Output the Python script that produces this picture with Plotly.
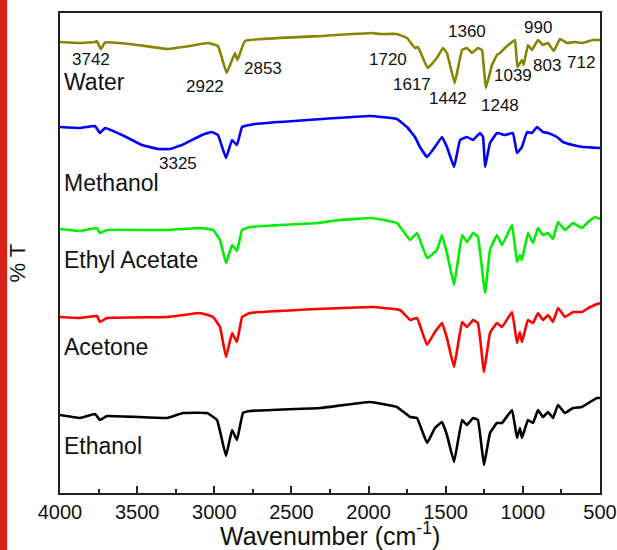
import plotly.graph_objects as go

# ---- data (wavenumber in cm-1, offset %T in arbitrary units) ----
water_wn = [4000, 3870, 3773, 3762, 3735, 3708, 3546, 3300, 3157, 3041, 2976, 2920, 2866, 2850, 2801,
            2302, 1978, 1926, 1816, 1751, 1699, 1680, 1617, 1557, 1518, 1492, 1442, 1394, 1362, 1330,
            1291, 1265, 1240, 1200, 1168, 1148, 1116, 1070, 1051, 1035, 1006, 995, 967, 941, 902,
            870, 837, 800, 759, 714, 662, 610, 546, 500]
water_t = [451, 450, 451, 452, 444, 450.5, 449, 444, 447, 450, 447, 420, 440, 433, 452,
           457, 460, 459, 459, 455, 445, 446, 425, 435, 445, 440, 410, 443, 445, 440,
           445, 443, 405, 428, 438, 440, 445, 451, 453, 426, 433, 428, 448, 443, 453,
           448, 450, 442, 454, 450, 451, 450, 453, 453]

methanol_wn = [4000, 3870, 3773, 3741, 3708, 3598, 3469, 3365, 3287, 3209, 3080, 3015, 2976, 2924,
               2885, 2853, 2820, 2736, 2302, 1991, 1816, 1751, 1699, 1667, 1621, 1570, 1524, 1492,
               1446, 1407, 1362, 1323, 1278, 1258, 1245, 1213, 1168, 1116, 1064, 1038, 1006, 973,
               941, 908, 870, 837, 779, 740, 675, 610, 500]
methanol_t = [366, 365, 367, 360, 365, 358, 348, 344, 344, 348, 358, 361, 358, 335,
              353, 348, 366, 369, 374, 377, 374, 366, 356, 346, 336, 346, 356, 346,
              326, 353, 356, 353, 360, 356, 326, 350, 360, 358, 360, 340, 346, 361,
              360, 366, 361, 360, 356, 351, 348, 346, 345]

ethyl_wn = [4000, 3870, 3762, 3741, 3695, 3306, 3093, 3008, 2963, 2924, 2885, 2853, 2820, 2769,
            2334, 2185, 1978, 1816, 1731, 1686, 1621, 1557, 1524, 1492, 1446, 1394, 1362, 1323,
            1291, 1245, 1213, 1168, 1135, 1070, 1038, 1019, 1006, 967, 934, 902, 870, 837, 805,
            772, 727, 675, 617, 584, 533, 500]
ethyl_t = [264, 262, 265, 260, 263, 263, 265, 263, 253, 230, 248, 242, 263, 266,
           270, 273, 275, 270, 253, 260, 235, 243, 258, 240, 208, 258, 251, 260,
           256, 200, 243, 258, 248, 268, 231, 238, 233, 260, 250, 265, 258, 260, 254,
           271, 263, 270, 265, 270, 276, 274]

acetone_wn = [4000, 3870, 3760, 3741, 3695, 3306, 3093, 3008, 2963, 2924, 2885, 2853, 2820, 2769,
              2334, 2166, 1978, 1796, 1731, 1686, 1621, 1570, 1524, 1492, 1446, 1394, 1362, 1323,
              1291, 1252, 1213, 1168, 1135, 1070, 1038, 1019, 1006, 967, 934, 902, 870, 837, 805,
              772, 727, 675, 617, 565, 500]
acetone_t = [176, 175, 177, 171, 175, 176, 180, 176, 166, 136, 160, 151, 176, 180,
             184, 185, 186, 183, 173, 175, 148, 161, 170, 155, 126, 171, 166, 173,
             170, 121, 160, 170, 166, 181, 150, 161, 151, 173, 170, 180, 173, 178, 171,
             185, 176, 181, 181, 186, 190]

ethanol_wn = [4000, 3870, 3773, 3741, 3695, 3306, 3203, 3047, 2982, 2924, 2885, 2853, 2814, 2769,
              2315, 1991, 1816, 1731, 1686, 1621, 1570, 1524, 1492, 1446, 1394, 1362, 1323, 1291,
              1252, 1213, 1168, 1135, 1070, 1038, 1019, 1006, 967, 934, 902, 870, 837, 805, 772,
              727, 675, 617, 565, 520, 500]
ethanol_t = [78, 75, 79, 73, 77, 75, 80, 80, 73, 37, 63, 53, 80, 82,
             85, 91, 86, 76, 75, 50, 65, 71, 58, 31, 73, 68, 75, 73,
             28, 60, 70, 70, 83, 55, 65, 55, 73, 70, 83, 76, 81, 75, 88,
             80, 85, 86, 91, 95, 95]

series_names = ["Water", "Methanol", "Ethyl Acetate", "Acetone", "Ethanol"]
series_colors = ["#858500", "#0000ff", "#00ee00", "#ff0000", "#000000"]

# trace-name label positions (left x in cm-1, y)
name_x = [3985, 3985, 3985, 3985, 3985]
name_y = [411, 310, 233, 146, 47]

# peak annotations
peak_text = ["3742", "2922", "2853", "1720", "1617", "1360", "1442", "1248", "1039", "990", "803", "712", "3325"]
peak_x = [3799, 3060, 2685, 1874, 1718, 1362, 1485, 1145, 1067, 902, 844, 623, 3235]
peak_y = [434, 407, 425, 434, 409, 462, 395, 388, 418, 466, 428, 431, 330]

xticks = [4000, 3500, 3000, 2500, 2000, 1500, 1000, 500]

FONT = "Arial, Liberation Sans, sans-serif"

fig = go.Figure()
all_wn = [water_wn, methanol_wn, ethyl_wn, acetone_wn, ethanol_wn]
all_t = [water_t, methanol_t, ethyl_t, acetone_t, ethanol_t]
for name, c, wn, t in zip(series_names, series_colors, all_wn, all_t):
    fig.add_trace(go.Scatter(x=wn, y=t, mode="lines", name=name,
                             line=dict(color=c, width=2.6, shape="spline", smoothing=0.25)))

for name, x, y in zip(series_names, name_x, name_y):
    fig.add_annotation(x=x, y=y, text=name, showarrow=False, xanchor="left", yanchor="middle",
                       font=dict(family=FONT, size=23, color="#111111"))

for txt, x, y in zip(peak_text, peak_x, peak_y):
    fig.add_annotation(x=x, y=y, text=txt, showarrow=False, xanchor="center", yanchor="middle",
                       font=dict(family=FONT, size=17, color="#111111"))

# axis titles
fig.add_annotation(xref="paper", yref="paper", x=-0.078, y=0.48, text="% T", textangle=-90,
                   xanchor="center", yanchor="middle",
                   showarrow=False, font=dict(family=FONT, size=22, color="#111111"))
fig.add_annotation(xref="paper", yref="paper", x=0.5, y=-0.086, yanchor="middle", xanchor="center",
                   text="Wavenumber (cm<sup>-1</sup>)", showarrow=False,
                   font=dict(family=FONT, size=25, color="#111111"))

# red bar at left edge of image
fig.add_shape(type="rect", xref="paper", yref="paper", x0=-0.112, x1=-0.098, y0=-0.13, y1=1.04,
              fillcolor="#d8241a", line=dict(width=0), layer="above")

fig.update_layout(
    width=617, height=550,
    margin=dict(l=60, r=17, t=13, b=57, autoexpand=False),
    paper_bgcolor="white", plot_bgcolor="white",
    showlegend=False,
    font=dict(family=FONT, color="#111111"),
)
fig.update_xaxes(range=[4000, 500], tickvals=xticks, ticks="inside", ticklen=7, tickwidth=1.5,
                 tickcolor="#222222", automargin=False,
                 minor=dict(dtick=250, tick0=0, ticks="inside", ticklen=4, tickwidth=1.5, tickcolor="#222222"),
                 showline=True, linecolor="#222222", linewidth=2, mirror=True, showgrid=False,
                 zeroline=False, tickfont=dict(family=FONT, size=20, color="#111111"))
fig.update_yaxes(range=[0, 480], showticklabels=False, ticks="", showline=True, linecolor="#222222",
                 linewidth=2, mirror=True, showgrid=False, zeroline=False, automargin=False)

fig.write_html("out.html", config={"displayModeBar": False},
               post_script="document.body.style.margin='0';document.body.style.overflow='hidden';")
